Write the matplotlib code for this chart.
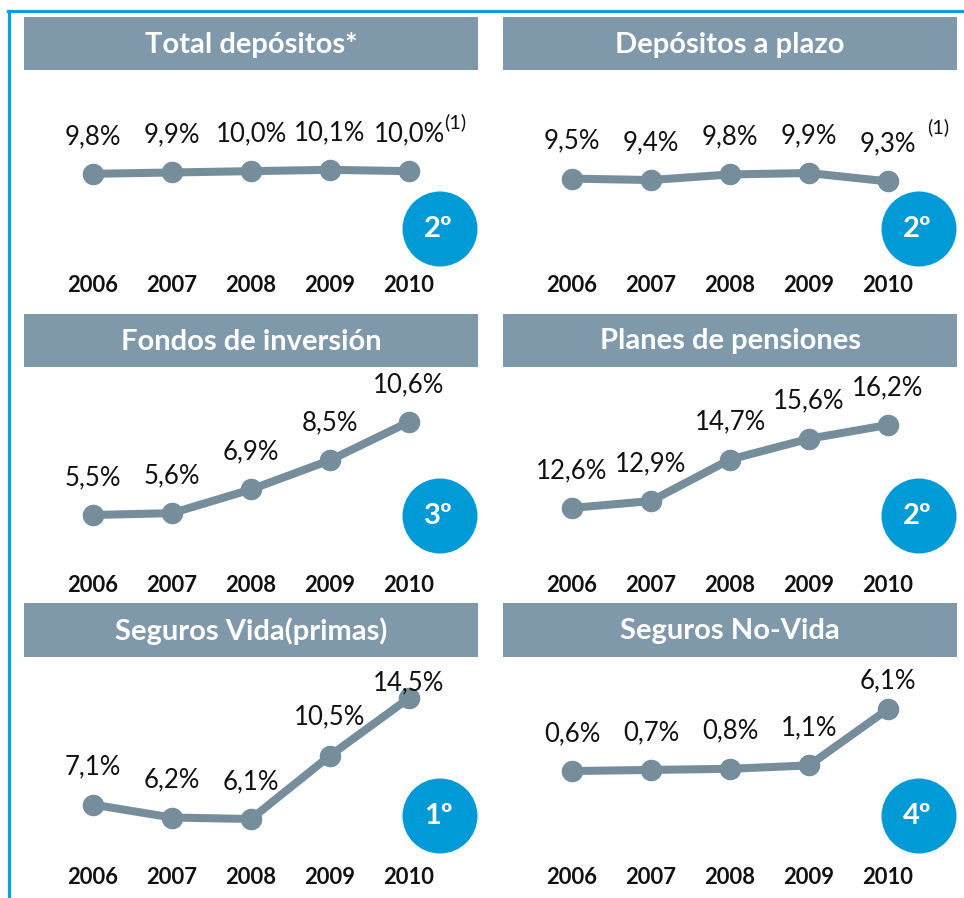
import matplotlib
matplotlib.use("Agg")
import matplotlib.pyplot as plt
from matplotlib.patches import Rectangle, Circle

# ---------------- data ----------------
years = ["2006", "2007", "2008", "2009", "2010"]
titles = ["Total depósitos*", "Depósitos a plazo", "Fondos de inversión",
          "Planes de pensiones", "Seguros Vida(primas)", "Seguros No-Vida"]
total_depositos = [9.8, 9.9, 10.0, 10.1, 10.0]
depositos_plazo = [9.5, 9.4, 9.8, 9.9, 9.3]
fondos_inversion = [5.5, 5.6, 6.9, 8.5, 10.6]
planes_pensiones = [12.6, 12.9, 14.7, 15.6, 16.2]
seguros_vida = [7.1, 6.2, 6.1, 10.5, 14.5]
seguros_no_vida = [0.6, 0.7, 0.8, 1.1, 6.1]
rankings = ["2º", "2º", "3º", "2º", "1º", "4º"]
footnotes = ["(1)", "(1)", "", "", "", ""]
series = [total_depositos, depositos_plazo, fondos_inversion,
          planes_pensiones, seguros_vida, seguros_no_vida]

# ---------------- style / layout ----------------
W, H = 964, 898
DPI = 100
HEADER_C = "#8099AA"
LINE_C = "#768E9B"
BLUE = "#009AD7"
BORDER = "#0AA0DC"
FONT = ["Lato", "DejaVu Sans"]

plt.rcParams["font.family"] = FONT

fig = plt.figure(figsize=(W / DPI, H / DPI), dpi=DPI)
fig.patch.set_facecolor("white")


def fx(x):
    return x / W


def fy(y):
    return 1 - y / H


# blue border lines
fig.add_artist(plt.Line2D([fx(8.5), fx(8.5)], [fy(11), fy(H)], color=BORDER, lw=2.3))
fig.add_artist(plt.Line2D([fx(7.5), fx(W)], [fy(11), fy(11)], color=BORDER, lw=2.3))

cols = [(24, 478), (503, 957)]
headers = [(17, 70), (314, 367), (603, 657)]
plot_rows = [(70, 300), (367, 600), (657, 893)]
year_y = [286, 585, 878]
circle_y = [229, 516, 816]
circle_x = [440, 919]
# y-limits per panel (scale setup)
ylims = [(0.32, 17.6), (0.83, 17.26), (0.84, 13.61),
         (8.61, 18.71), (0.96, 17.35), (-10.22, 10.72)]
# label vertical offset in points
label_off = [[27] * 5, [27] * 5, [27] * 5, [27] * 5,
             [27, 27, 27, 28, 11], [27, 27, 27, 27, 20]]
foot_off = [(33, 35), (36, 39)]

for k in range(6):
    r, c = divmod(k, 2)
    x0, x1 = cols[c]
    h0, h1 = headers[r]
    # header bar
    fig.add_artist(Rectangle((fx(x0), fy(h1)), fx(x1 - x0), (h1 - h0) / H,
                             transform=fig.transFigure, facecolor=HEADER_C,
                             edgecolor="none"))
    fig.text(fx((x0 + x1) / 2), fy((h0 + h1) / 2 + 1), titles[k], color="white",
             fontsize=21, fontweight="bold", ha="center", va="center")

    p0, p1 = plot_rows[r]
    ax = fig.add_axes([fx(x0), fy(p1), fx(x1 - x0), (p1 - p0) / H])
    ax.set_axis_off()
    ax.set_xlim(-0.873, 4.873)
    ax.set_ylim(*ylims[k])
    xs = list(range(len(years)))
    ax.plot(xs, series[k], color=LINE_C, lw=5.8, marker="o", ms=14.5,
            solid_capstyle="round", zorder=3)
    for i, v in enumerate(series[k]):
        lbl = f"{v:.1f}%".replace(".", ",")
        ax.annotate(lbl, (i, v), xytext=(0, label_off[k][i]),
                    textcoords="offset points", ha="center", va="center",
                    fontsize=18.5, color="#111111", zorder=4)
    if footnotes[k]:
        v = series[k][-1]
        ax.annotate(footnotes[k], (4, v), xytext=foot_off[c],
                    textcoords="offset points", ha="center", va="center",
                    fontsize=14.5, color="#111111")

    # year labels
    for i, yr in enumerate(years):
        xp = (x0 + x1) / 2 + (i - 2) * 79
        fig.text(fx(xp), fy(year_y[r]), yr, ha="center", va="center",
                 fontsize=15.8, fontweight="bold", color="#111111")

    # ranking circle
    cx, cy = circle_x[c], circle_y[r]
    fig.add_artist(Circle((cx, H - cy), 37.5, transform=None, facecolor=BLUE,
                          edgecolor="none"))
    fig.text(fx(cx - 2), fy(cy), rankings[k], ha="center", va="center",
             fontsize=21, fontweight="bold", color="white")

fig.savefig("out.png", dpi=DPI)
